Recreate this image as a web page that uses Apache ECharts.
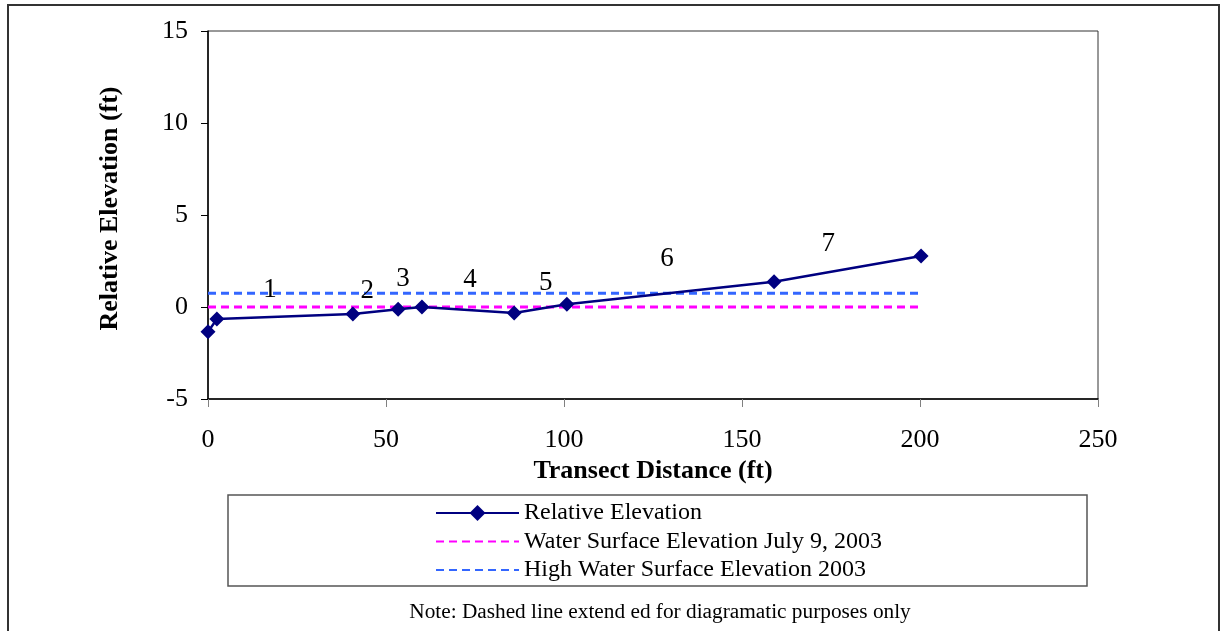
<!DOCTYPE html>
<html>
<head>
<meta charset="utf-8">
<script src="https://cdn.jsdelivr.net/npm/echarts@6/dist/echarts.min.js"></script>
<style>html,body{margin:0;padding:0;background:#fff;}#c{width:1221px;height:631px;}</style>
</head>
<body>
<div id="c"></div>
<script>
// Relative elevation profile
const distance = [0, 2.5, 40.7, 53.4, 60.1, 86.0, 100.8, 159.0, 200.3];
const elevation = [-1.35, -0.65, -0.38, -0.12, 0.0, -0.33, 0.15, 1.37, 2.77];
// Dashed reference lines
const refX = [0, 200.3];
const waterJuly = [0, 0];
const highWater = [0.75, 0.75];
// Segment labels
const segLabels = ['1', '2', '3', '4', '5', '6', '7'];
const segX = [17.4, 44.7, 54.8, 73.6, 94.9, 128.9, 174.2];
const segY = [0.92, 0.87, 1.52, 1.47, 1.30, 2.61, 3.42];
// Axis ticks
const xTicks = { min: 0, max: 250, interval: 50 };
const yTicks = { min: -5, max: 15, interval: 5 };
const seriesNames = ['Relative Elevation', 'Water Surface Elevation July 9, 2003', 'High Water Surface Elevation 2003'];
const noteText = 'Note: Dashed line extend ed for diagramatic purposes only';

const serif = "'Liberation Serif', 'DejaVu Serif', serif";
const chart = echarts.init(document.getElementById('c'));
chart.setOption({
  animation: false,
  backgroundColor: '#fff',
  grid: { left: 208, top: 31, right: 123, bottom: 232, show: true, borderColor: '#333', borderWidth: 1 },
  xAxis: {
    type: 'value', min: xTicks.min, max: xTicks.max, interval: xTicks.interval,
    name: 'Transect Distance (ft)', nameLocation: 'middle', nameGap: 57,
    nameTextStyle: { fontFamily: serif, fontWeight: 'bold', fontSize: 26, color: '#000' },
    axisLine: { show: true, onZero: false, lineStyle: { color: '#000', width: 1.5 } },
    axisTick: { show: true, inside: false, length: 8, lineStyle: { color: '#808080', width: 1 } },
    axisLabel: { fontFamily: serif, fontSize: 26, color: '#000', margin: 28 },
    splitLine: { show: false }
  },
  yAxis: {
    type: 'value', min: yTicks.min, max: yTicks.max, interval: yTicks.interval,
    name: 'Relative Elevation (ft)', nameLocation: 'middle', nameGap: 85, nameRotate: 90,
    nameTextStyle: { fontFamily: serif, fontWeight: 'bold', fontSize: 26, color: '#000', padding: [0, 0, 0, 13] },
    axisLine: { show: true, onZero: false, lineStyle: { color: '#000', width: 1.5 } },
    axisTick: { show: true, inside: false, length: 7, lineStyle: { color: '#000', width: 1 } },
    axisLabel: { fontFamily: serif, fontSize: 26, color: '#000', margin: 20 },
    splitLine: { show: false }
  },
  legend: {
    orient: 'vertical', left: 435, top: 501, padding: 0,
    data: [
      { name: seriesNames[0] },
      { name: seriesNames[1], itemStyle: { opacity: 0 } },
      { name: seriesNames[2], itemStyle: { opacity: 0 } }
    ],
    itemWidth: 83, itemHeight: 20, itemGap: 4.5,
    textStyle: { fontFamily: serif, fontSize: 24, color: '#000', lineHeight: 24 }
  },
  graphic: [
    { type: 'rect', shape: { x: 8, y: 5, width: 1211, height: 640 }, style: { fill: 'none', stroke: '#333', lineWidth: 2 }, silent: true },
    { type: 'rect', shape: { x: 228, y: 495, width: 859, height: 91 }, style: { fill: 'none', stroke: '#555', lineWidth: 1.5 }, silent: true, z: -1 },
    { type: 'text', x: 660, y: 602, style: { text: noteText, align: 'center', fontFamily: serif, fontSize: 21.3, fill: '#000' }, silent: true }
  ],
  series: [
    {
      name: seriesNames[1], type: 'line', data: refX.map((x, i) => [x, waterJuly[i]]),
      symbol: 'none', lineStyle: { color: '#FF00FF', width: 3, type: [8, 5] }, itemStyle: { color: '#FF00FF' }, z: 2
    },
    {
      name: seriesNames[2], type: 'line', data: refX.map((x, i) => [x, highWater[i]]),
      symbol: 'none', lineStyle: { color: '#3366FF', width: 3, type: [8, 5] }, itemStyle: { color: '#3366FF' }, z: 2
    },
    {
      name: seriesNames[0], type: 'line', data: distance.map((x, i) => [x, elevation[i]]),
      symbol: 'diamond', symbolSize: 15, showAllSymbol: true,
      lineStyle: { color: '#000080', width: 2.5 }, itemStyle: { color: '#000080' }, z: 3
    },
    {
      name: 'labels', type: 'scatter', data: segX.map((x, i) => ({ value: [x, segY[i]], name: segLabels[i] })),
      symbolSize: 1, itemStyle: { color: 'transparent' }, silent: true,
      label: { show: true, position: 'inside', formatter: p => p.name, fontFamily: serif, fontSize: 27, color: '#000', textBorderWidth: 0, opacity: 1 }, z: 4
    }
  ]
});
</script>
</body>
</html>
